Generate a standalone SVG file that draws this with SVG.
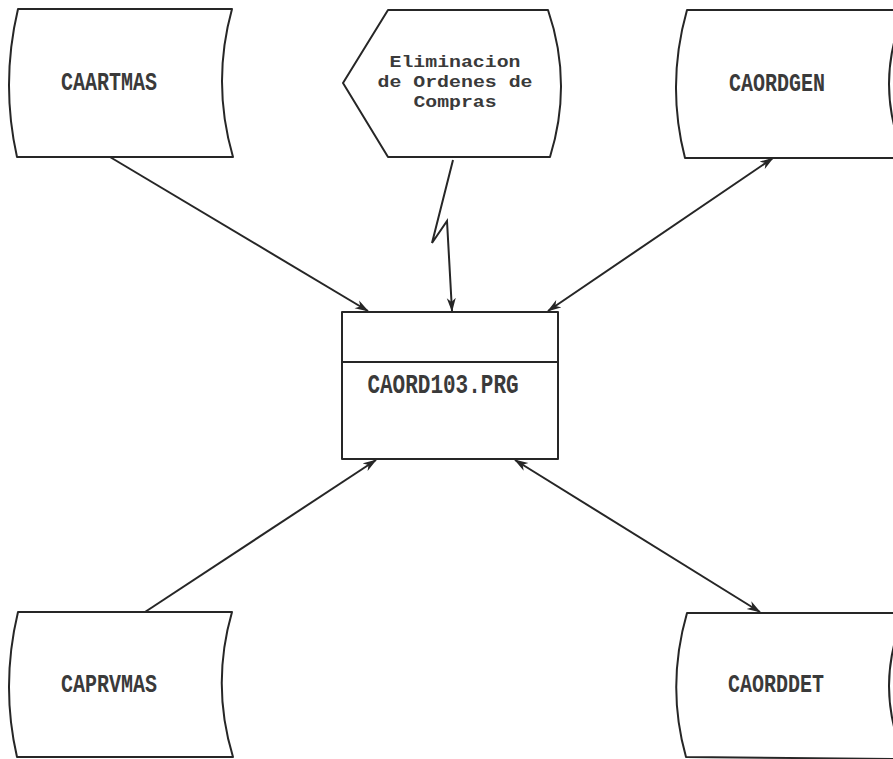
<svg xmlns="http://www.w3.org/2000/svg" width="893" height="759" viewBox="0 0 893 759">
  <style>
    .shape { fill: #ffffff; stroke: #262626; stroke-width: 2; stroke-linejoin: round; }
    .lbl { font-family: "Liberation Mono", "DejaVu Sans Mono", monospace; font-weight: bold; font-size: 20px; fill: #3a3a3a; text-anchor: middle; dominant-baseline: central; }
    .small { font-size: 17px; }
    .conn { fill: none; stroke: #262626; stroke-width: 2; stroke-linejoin: miter; }
  </style>
  <defs>
    <marker id="arrow" viewBox="0 0 14 10" refX="13" refY="5" markerWidth="14" markerHeight="10" markerUnits="userSpaceOnUse" orient="auto-start-reverse">
      <path d="M0,0.5 L14,5 L0,9.5 L4,5 Z" fill="#262626"/>
    </marker>
  </defs>
  <rect width="893" height="759" fill="#ffffff"/>

  <g id="connectors">
    <path class="conn" d="M110,157 L368,311" marker-end="url(#arrow)"/>
    <path class="conn" d="M453,160 L432,243 L447,221 L452,311" marker-end="url(#arrow)"/>
    <path class="conn" d="M548,311 L773,158" marker-start="url(#arrow)" marker-end="url(#arrow)"/>
    <path class="conn" d="M145,612 L376,460" marker-end="url(#arrow)"/>
    <path class="conn" d="M515,460 L760,612" marker-start="url(#arrow)" marker-end="url(#arrow)"/>
  </g>

  <g id="caartmas">
    <path class="shape" d="M18,9 L232,9 Q211.5,83 233,157 L17,157 Q0.5,83 18,9 Z"/>
    <text class="lbl" transform="translate(109,83) scale(1,1.3)">CAARTMAS</text>
  </g>

  <g id="eliminacion">
    <path class="shape" d="M388,10 L548,10 Q573,83 550,157 L388,157 L343,83 Z"/>
    <text class="lbl small" x="455" y="62" textLength="131" lengthAdjust="spacingAndGlyphs">Eliminacion</text>
    <text class="lbl small" x="455" y="82" textLength="155" lengthAdjust="spacingAndGlyphs">de Ordenes de</text>
    <text class="lbl small" x="455" y="102" textLength="83" lengthAdjust="spacingAndGlyphs">Compras</text>
  </g>

  <g id="caordgen">
    <path class="shape" d="M687,10 L905,10 Q873,84 905,158 L685,158 Q666,84 687,10 Z"/>
    <text class="lbl" transform="translate(777,84) scale(1,1.3)">CAORDGEN</text>
  </g>

  <g id="caord103">
    <rect class="shape" x="342" y="312" width="216" height="147"/>
    <line class="shape" x1="342" y1="362" x2="558" y2="362"/>
    <text class="lbl" style="font-size:21px" transform="translate(443,386) scale(1,1.3)">CAORD103.PRG</text>
  </g>

  <g id="caprvmas">
    <path class="shape" d="M18,612 L232,612 Q211,685 233,757 L17,757 Q0.5,685 18,612 Z"/>
    <text class="lbl" transform="translate(109,685) scale(1,1.3)">CAPRVMAS</text>
  </g>

  <g id="caorddet">
    <path class="shape" d="M687,613 L905,613 Q873,686 905,759 L686,757 Q666,686 687,613 Z"/>
    <text class="lbl" transform="translate(776,685) scale(1,1.3)">CAORDDET</text>
  </g>
</svg>
